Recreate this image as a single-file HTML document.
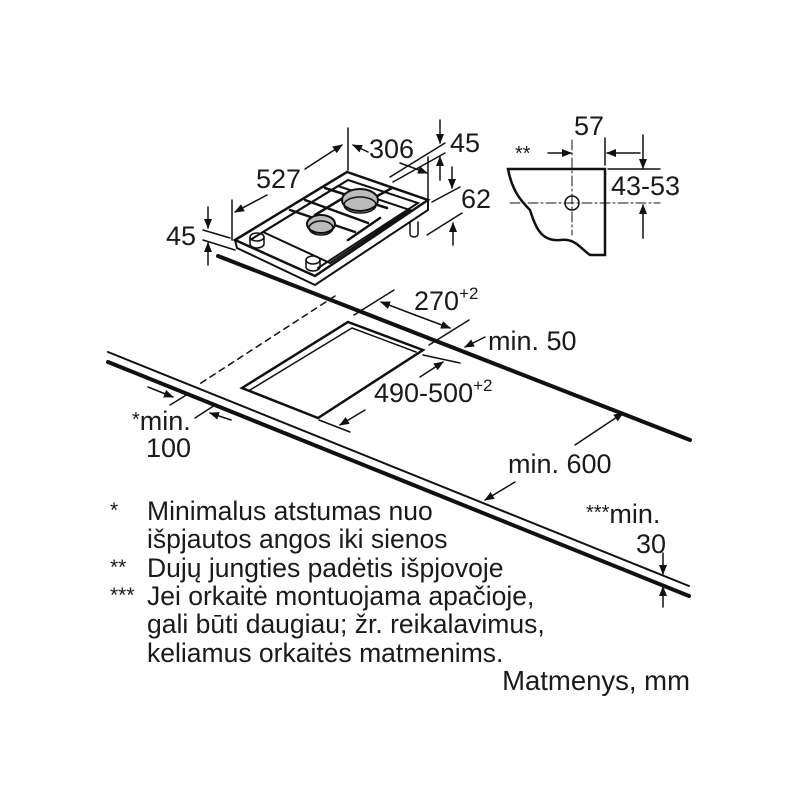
<!DOCTYPE html>
<html><head><meta charset="utf-8"><style>
html,body{margin:0;padding:0;background:#fff;}
svg{display:block}
text{font-family:"Liberation Sans",sans-serif;fill:#1a1a1a}
</style></head><body>
<svg width="800" height="800" viewBox="0 0 800 800" xmlns="http://www.w3.org/2000/svg">
<defs>
<marker id="a" markerWidth="10" markerHeight="8" refX="9" refY="4" orient="auto" markerUnits="userSpaceOnUse"><path d="M0,0 L10,4 L0,8 z" fill="#111"/></marker>
</defs>
<g stroke="#111" fill="none" stroke-linecap="round">
<line x1="108" y1="352" x2="689" y2="586" stroke-width="2"/>
<line x1="108" y1="362" x2="689" y2="596" stroke-width="4"/>
<line x1="218" y1="256" x2="690" y2="440" stroke-width="4"/>
<path d="M348,322 L423,350 L318,418 L242,388 Z" stroke-width="2.5"/>
<path d="M352,328 L416,352 M352,328 L250,390" stroke-width="1.5"/>
<line x1="335" y1="296" x2="198" y2="385" stroke-width="1.5" stroke-dasharray="6,5"/>
<line x1="394" y1="290" x2="354" y2="315" stroke-width="1.5"/>
<line x1="469" y1="320" x2="429" y2="345" stroke-width="1.5"/>
<line x1="415" y1="315" x2="381" y2="302" stroke-width="1.5" marker-end="url(#a)"/>
<line x1="415" y1="315" x2="450" y2="328" stroke-width="1.5" marker-end="url(#a)"/>
<line x1="485" y1="337" x2="465" y2="347" stroke-width="1.5" marker-end="url(#a)"/>
<line x1="423" y1="355" x2="460" y2="363" stroke-width="1.5"/>
<line x1="319" y1="420" x2="350" y2="432" stroke-width="1.5"/>
<line x1="420" y1="377" x2="443" y2="362" stroke-width="1.5" marker-end="url(#a)"/>
<line x1="365" y1="410" x2="340" y2="425" stroke-width="1.5" marker-end="url(#a)"/>
<line x1="148" y1="387" x2="173" y2="397" stroke-width="1.5" marker-end="url(#a)"/>
<line x1="231" y1="420" x2="210" y2="413" stroke-width="1.5" marker-end="url(#a)"/>
<line x1="188" y1="394" x2="170" y2="405" stroke-width="1.5"/>
<line x1="215" y1="405" x2="195" y2="418" stroke-width="1.5"/>
<line x1="575" y1="445" x2="623" y2="413" stroke-width="1.5" marker-end="url(#a)"/>
<line x1="515" y1="482" x2="485" y2="500" stroke-width="1.5" marker-end="url(#a)"/>
<line x1="663" y1="553" x2="663" y2="574" stroke-width="1.5" marker-end="url(#a)"/>
<line x1="663" y1="607" x2="663" y2="587" stroke-width="1.5" marker-end="url(#a)"/>

<path d="M235,240 L347,172 L428,200 L315,276 Z" stroke-width="2.5"/>
<path d="M235,240 L237,248 L315,285 L428,210 L428,200" stroke-width="2"/>
<path d="M250,240 L348,180 L418,203 L318,268" stroke-width="2"/>
<path d="M263,232 L338,186 L410,210 L330,263 Z" stroke-width="2"/>
<path d="M290,210 L355,232 M305,200 L368,223 M325,188 L387,208 M315,215 L348,195 M348,240 L380,218 M370,200 L392,188" stroke-width="2.5"/>
<ellipse cx="360" cy="200" rx="18" ry="11" fill="#bbb" stroke-width="2"/>
<ellipse cx="360" cy="205" rx="16" ry="8" stroke-width="1.5"/>
<ellipse cx="321" cy="224" rx="14" ry="9" fill="#bbb" stroke-width="2"/>
<ellipse cx="321" cy="228" rx="12" ry="7" stroke-width="1.5"/>
<ellipse cx="257" cy="237" rx="7" ry="4" stroke-width="1.5"/><path d="M250,237 v7 a7,4 0 0 0 14,0 v-7" stroke-width="1.5"/>
<ellipse cx="313" cy="260" rx="7" ry="4" stroke-width="1.5"/><path d="M306,260 v7 a7,4 0 0 0 14,0 v-7" stroke-width="1.5"/>
<path d="M410,222 v12 a4,3 0 0 0 8,0 v-12" stroke-width="1.5"/>
<line x1="348" y1="128" x2="348" y2="170" stroke-width="1.5"/>
<line x1="232" y1="200" x2="232" y2="240" stroke-width="1.5"/>
<line x1="305" y1="169" x2="342" y2="145" stroke-width="1.5" marker-end="url(#a)"/>
<line x1="267" y1="195" x2="235" y2="212" stroke-width="1.5" marker-end="url(#a)"/>
<line x1="368" y1="152" x2="353" y2="145" stroke-width="1.5" marker-end="url(#a)"/>
<line x1="400" y1="163" x2="427" y2="173" stroke-width="1.5" marker-end="url(#a)"/>
<line x1="428" y1="157" x2="428" y2="200" stroke-width="1.5"/>
<line x1="390" y1="177" x2="445" y2="143" stroke-width="1.5"/>
<line x1="393" y1="182" x2="445" y2="153" stroke-width="1.5"/>
<line x1="440" y1="120" x2="440" y2="143" stroke-width="1.5" marker-end="url(#a)"/>
<line x1="440" y1="180" x2="440" y2="157" stroke-width="1.5" marker-end="url(#a)"/>
<line x1="452" y1="167" x2="452" y2="188" stroke-width="1.5" marker-end="url(#a)"/>
<line x1="432" y1="202" x2="460" y2="187" stroke-width="1.5"/>
<line x1="427" y1="235" x2="462" y2="213" stroke-width="1.5"/>
<line x1="453" y1="245" x2="453" y2="223" stroke-width="1.5" marker-end="url(#a)"/>
<line x1="208" y1="207" x2="208" y2="228" stroke-width="1.5" marker-end="url(#a)"/>
<line x1="208" y1="265" x2="208" y2="243" stroke-width="1.5" marker-end="url(#a)"/>
<line x1="203" y1="230" x2="230" y2="238" stroke-width="1.5"/>
<line x1="203" y1="240" x2="235" y2="250" stroke-width="1.5"/>

<path d="M508,169 L605,169 L605,255 L590,255 C580,248 575,238 560,240 C540,242 535,225 530,210 C520,200 512,190 508,169 Z" stroke-width="2.5"/>
<circle cx="572" cy="203" r="7" stroke-width="1.5"/>
<line x1="510" y1="203" x2="660" y2="203" stroke-width="1" stroke-dasharray="10,3,2,3"/>
<line x1="572" y1="140" x2="572" y2="235" stroke-width="1" stroke-dasharray="10,3,2,3"/>
<line x1="605" y1="138" x2="605" y2="165" stroke-width="1.5"/>
<line x1="548" y1="153" x2="571" y2="153" stroke-width="1.5" marker-end="url(#a)"/>
<line x1="640" y1="153" x2="607" y2="153" stroke-width="1.5" marker-end="url(#a)"/>
<line x1="608" y1="169" x2="660" y2="169" stroke-width="1.5"/>
<line x1="643" y1="135" x2="643" y2="168" stroke-width="1.5" marker-end="url(#a)"/>
<line x1="643" y1="238" x2="643" y2="205" stroke-width="1.5" marker-end="url(#a)"/>
</g>
<g font-size="27">
<text x="369" y="158">306</text>
<text x="450" y="152">45</text>
<text x="256" y="188">527</text>
<text x="461" y="208">62</text>
<text x="166" y="245">45</text>
<text x="574" y="135">57</text>
<text x="515" y="160" font-size="20">**</text>
<text x="611" y="195">43-53</text>
<text x="414" y="310">270<tspan font-size="17" dy="-11">+2</tspan></text>
<text x="488" y="350">min. 50</text>
<text x="374" y="402">490-500<tspan font-size="17" dy="-11">+2</tspan></text>
<text x="132" y="430"><tspan font-size="20" dy="-4">*</tspan><tspan dy="4">min.</tspan></text>
<text x="146" y="457">100</text>
<text x="508" y="473">min. 600</text>
<text x="586" y="523"><tspan font-size="20" dy="-4">***</tspan><tspan dy="4">min.</tspan></text>
<text x="636" y="553">30</text>
</g>
<g font-size="26.5">
<text x="110" y="517" font-size="21">*</text>
<text x="147" y="520">Minimalus atstumas nuo</text>
<text x="147" y="548">išpjautos angos iki sienos</text>
<text x="110" y="574" font-size="21">**</text>
<text x="147" y="577">Dujų jungties padėtis išpjovoje</text>
<text x="110" y="602" font-size="21">***</text>
<text x="147" y="605">Jei orkaitė montuojama apačioje,</text>
<text x="147" y="633">gali būti daugiau; žr. reikalavimus,</text>
<text x="147" y="662">keliamus orkaitės matmenims.</text>
<text x="690" y="690" text-anchor="end" font-size="27.5">Matmenys, mm</text>
</g>
</svg>
</body></html>
